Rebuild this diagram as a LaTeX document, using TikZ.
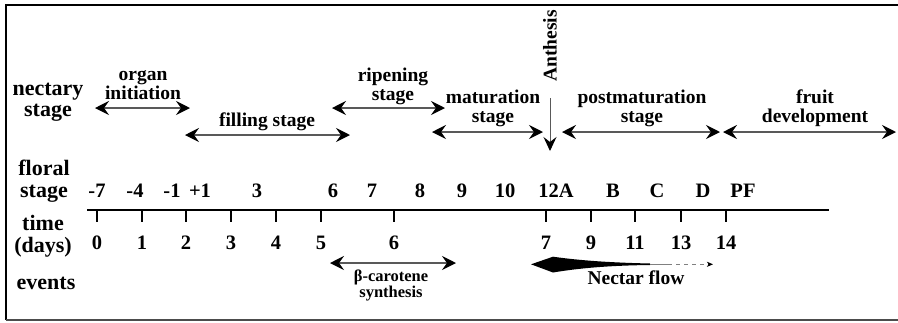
\documentclass[tikz,border=0pt]{standalone}
\usepackage{fontspec}
\setmainfont{Liberation Serif}
\usetikzlibrary{arrows.meta}
\tikzset{
  lbl/.style={font=\fontsize{19.5}{19}\selectfont\bfseries, align=center, inner sep=0pt},
  row/.style={font=\fontsize{22}{21.5}\selectfont\bfseries, align=center, inner sep=0pt},
  num/.style={font=\fontsize{20.5}{20}\selectfont\bfseries, inner sep=0pt},
  small/.style={font=\fontsize{16.5}{16}\selectfont\bfseries, align=center, inner sep=0pt},
  dbl/.style={line width=1.4pt, draw=black!65, {Stealth[length=14pt,width=14pt,inset=5pt,color=black]}-{Stealth[length=14pt,width=14pt,inset=5pt,color=black]}},
  tick/.style={line width=1.5pt},
}
\begin{document}
\begin{tikzpicture}[x=1pt,y=-1pt]
\useasboundingbox (0,0) rectangle (898,322);
% frame
\draw[line width=2.4pt] (898,5) -- (6,5) -- (6,320);
\draw[line width=1.2pt, black!70] (6,320) -- (898,320);

% row labels
\node[row] (rNect) at (48,102) {nectary\\stage};
\node[row] (rFlor) at (44,181) {floral\\stage};
\node[row] (rTime) at (43,236) {time\\(days)};
\node[row] (rEv) at (46,283) {events};

% nectary stages
\node[lbl] (tOrgan) at (143,85) {organ\\initiation};
\coordinate (aO1) at (95,108); \coordinate (aO2) at (190,108);
\draw[dbl] (aO1) -- (aO2);

\node[lbl] (tFill) at (267,122) {filling stage};
\coordinate (aF1) at (185,135); \coordinate (aF2) at (350,135);
\draw[dbl] (aF1) -- (aF2);

\node[lbl] (tRip) at (393,86) {ripening\\stage};
\coordinate (aR1) at (332,108); \coordinate (aR2) at (445,108);
\draw[dbl] (aR1) -- (aR2);

\node[lbl] (tMat) at (493,108) {maturation\\stage};
\coordinate (aM1) at (432,132); \coordinate (aM2) at (543,132);
\draw[dbl] (aM1) -- (aM2);

\node[lbl] (tPost) at (642,108) {postmaturation\\stage};
\coordinate (aP1) at (562,132); \coordinate (aP2) at (720,132);
\draw[dbl] (aP1) -- (aP2);

\node[lbl] (tFruit) at (815,108) {fruit\\development};
\coordinate (aD1) at (723,132); \coordinate (aD2) at (896,132);
\draw[dbl] (aD1) -- (aD2);

% anthesis
\node[lbl, rotate=90] (tAnth) at (550,46) {Anthesis};
\coordinate (an1) at (550,98); \coordinate (an2) at (550,151);
\draw[line width=1pt, black!65, -{Stealth[length=14pt,width=13pt,inset=5pt,color=black]}] (an1) -- (an2);

% floral stages
\foreach \x/\t [count=\i] in {97/-7,135/-4,172/-1,200/+1,257/3,333/6,372/7,420/8,462/9,505/10,556/12A,613/B,657/C,703/D,743/PF}
  \node[num] (fs\i) at (\x,191) {\t};

% timeline
\coordinate (tlA) at (87,210); \coordinate (tlB) at (829,210);
\draw[line width=2.4pt] (tlA) -- (tlB);
\foreach \x/\t [count=\i] in {97/0,142/1,186/2,231/3,276/4,321/5,394/6,546/7,591/9,635/11,681/13,726/14}{
  \coordinate (tk\i) at (\x,210);
  \coordinate (tb\i) at (\x,222);
  \draw[tick] (tk\i) -- (tb\i);
  \node[num] (td\i) at (\x,243) {\t};
}

% events
\coordinate (bc1) at (330,263); \coordinate (bc2) at (456,263);
\draw[dbl] (bc1) -- (bc2);
\node[small] (tBeta) at (391,285) {β-carotene\\synthesis};

\fill (531,264.3) -- (553,256.7) .. controls (580,260.5) and (610,262.6) .. (650,263.5)
  -- (650,265) .. controls (610,265.5) and (580,268) .. (553,272.5) -- cycle;
\coordinate (nf1) at (650,264.3); \coordinate (nf2) at (668,264.3); \coordinate (nf3) at (713,264.3);
\draw[line width=0.9pt, black!50] (nf1) -- (nf2);
\draw[line width=0.9pt, black!50, dash pattern=on 4pt off 4pt, -{Stealth[length=6pt,width=5pt,inset=1.5pt,color=black]}] (nf2) -- (nf3);
\node[lbl] (tNect) at (636,278) {Nectar flow};
\end{tikzpicture}
\end{document}
